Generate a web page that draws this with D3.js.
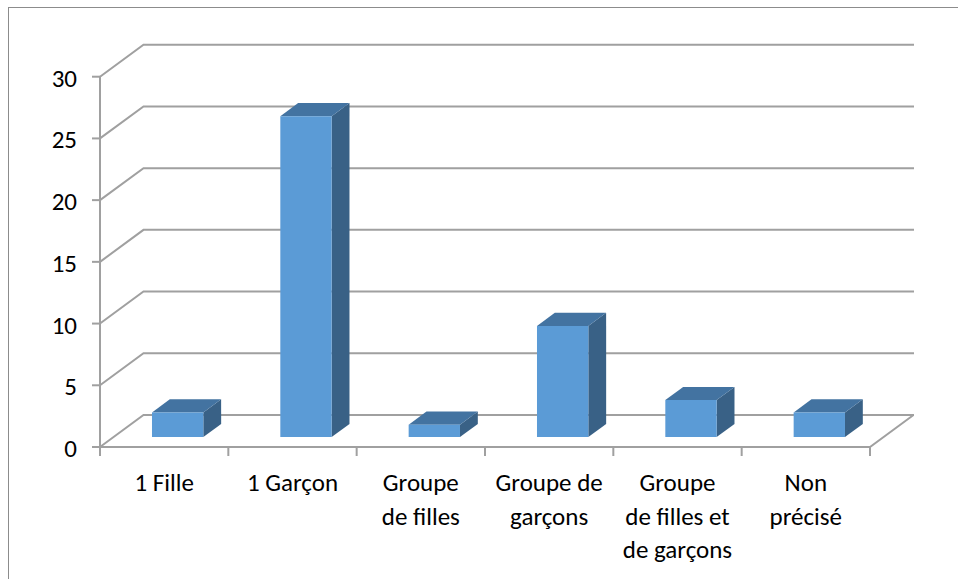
<!DOCTYPE html>
<html><head><meta charset="utf-8">
<script src="https://cdn.jsdelivr.net/npm/d3@7"></script>
<style>
html,body{margin:0;padding:0;background:#fff;}
svg{display:block;}
text{font-family:Carlito,Calibri,Lato,"Liberation Sans",sans-serif;fill:#000;}
</style></head>
<body>
<svg id="chart" width="958" height="579"></svg>
<script>
const categories = ["1 Fille", "1 Garçon", "Groupe de filles", "Groupe de garçons", "Groupe de filles et de garçons", "Non précisé"];
const categoryLines = [["1 Fille"], ["1 Garçon"], ["Groupe", "de filles"], ["Groupe de", "garçons"], ["Groupe", "de filles et", "de garçons"], ["Non", "précisé"]];
const values = [2, 26, 1, 9, 3, 2];
const yTicks = [0, 5, 10, 15, 20, 25, 30];

const svg = d3.select("#chart");
const DX = 43.5, DY = -32;          // depth offset of back wall
const Z1 = 0.31, Z2 = 0.72;         // bar front/back depth
const grid = "#a0a0a0";

const x = d3.scaleBand().domain(categories).range([100, 870]).paddingInner(0).paddingOuter(0);
const y = d3.scaleLinear().domain([0, 30]).range([447, 76.7]);
const right = 914;

// outer border
svg.append("rect").attr("x", 8.5).attr("y", 7.5).attr("width", 980).attr("height", 600)
  .attr("fill", "none").attr("stroke", "#8c8c8c").attr("stroke-width", 1);

// gridlines: side diagonal + back horizontal
const g = svg.append("g");
yTicks.forEach(t => {
  const yy = y(t);
  g.append("path")
    .attr("d", `M${x.range()[0]},${yy}L${x.range()[0] + DX},${yy + DY}L${right},${yy + DY}`)
    .attr("fill", "none").attr("stroke", grid).attr("stroke-width", 2);
});
// floor
g.append("path")
  .attr("d", `M${x.range()[0]},${y(0)}L${x.range()[1]},${y(0)}L${x.range()[1] + DX},${y(0) + DY}`)
  .attr("fill", "none").attr("stroke", grid).attr("stroke-width", 2);
// vertical axis
g.append("line").attr("x1", 100).attr("x2", 100).attr("y1", y(30)).attr("y2", y(0))
  .attr("stroke", grid).attr("stroke-width", 2);
// y ticks
yTicks.forEach(t => {
  g.append("line").attr("x1", 92).attr("x2", 100).attr("y1", y(t)).attr("y2", y(t))
    .attr("stroke", grid).attr("stroke-width", 2);
  svg.append("text").attr("x", 77).attr("y", y(t) + 1.5).attr("text-anchor", "end")
    .attr("dominant-baseline", "central").attr("font-size", 25).text(t);
});
// category ticks
const bounds = categories.map(c => x(c)).concat([x.range()[1]]);
bounds.forEach(b => {
  g.append("line").attr("x1", b).attr("x2", b).attr("y1", y(0)).attr("y2", y(0) + 9)
    .attr("stroke", grid).attr("stroke-width", 2);
});

// bars
const bw = x.bandwidth();
categories.forEach((c, i) => {
  const v = values[i];
  const x0 = x(c) + bw * 0.3, x1 = x(c) + bw * 0.7;
  const fx = z => z * DX, fy = z => z * DY;
  const yb = y(0), yt = y(v);
  const A = [x0 + fx(Z1), yt + fy(Z1)], B = [x1 + fx(Z1), yt + fy(Z1)];
  const C = [x1 + fx(Z2), yt + fy(Z2)], D = [x0 + fx(Z2), yt + fy(Z2)];
  const Bb = [x1 + fx(Z1), yb + fy(Z1)], Cb = [x1 + fx(Z2), yb + fy(Z2)];
  const Ab = [x0 + fx(Z1), yb + fy(Z1)];
  const bar = svg.append("g");
  bar.append("path").attr("d", `M${B}L${C}L${Cb}L${Bb}Z`).attr("fill", "#396186");
  bar.append("path").attr("d", `M${A}L${B}L${C}L${D}Z`).attr("fill", "#4373a1");
  bar.append("path").attr("d", `M${A}L${B}L${Bb}L${Ab}Z`).attr("fill", "#5b9bd6");
});

// category labels
categories.forEach((c, i) => {
  const t = svg.append("text").attr("x", x(c) + bw / 2).attr("y", 491)
    .attr("text-anchor", "middle").attr("font-size", 25);
  categoryLines[i].forEach((ln, j) => {
    t.append("tspan").attr("x", x(c) + bw / 2).attr("dy", j === 0 ? 0 : 33.5).text(ln);
  });
});
</script>
</body></html>
